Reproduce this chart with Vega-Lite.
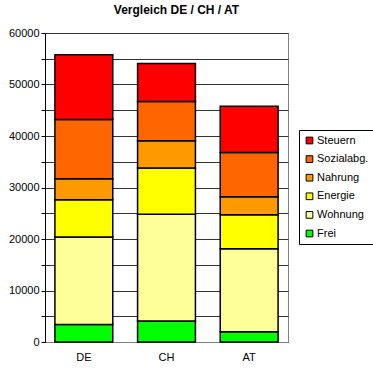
{
  "$schema": "https://vega.github.io/schema/vega-lite/v6.json",
  "autosize": {"type": "none"},
  "padding": {"left": 45, "top": 33, "right": 85, "bottom": 28},
  "width": 243,
  "height": 309,
  "background": "white",
  "title": {
    "text": "Vergleich DE / CH / AT",
    "font": "Liberation Sans",
    "fontSize": 12,
    "fontWeight": "bold",
    "color": "black",
    "anchor": "middle",
    "dx": 10,
    "offset": 10
  },
  "data": {
    "values": [
      {"Land": "DE", "Kategorie": "Frei", "Wert": 3400},
      {"Land": "DE", "Kategorie": "Wohnung", "Wert": 17000},
      {"Land": "DE", "Kategorie": "Energie", "Wert": 7200},
      {"Land": "DE", "Kategorie": "Nahrung", "Wert": 4100},
      {"Land": "DE", "Kategorie": "Sozialabg.", "Wert": 11500},
      {"Land": "DE", "Kategorie": "Steuern", "Wert": 12600},
      {"Land": "CH", "Kategorie": "Frei", "Wert": 4100},
      {"Land": "CH", "Kategorie": "Wohnung", "Wert": 20700},
      {"Land": "CH", "Kategorie": "Energie", "Wert": 9000},
      {"Land": "CH", "Kategorie": "Nahrung", "Wert": 5300},
      {"Land": "CH", "Kategorie": "Sozialabg.", "Wert": 7600},
      {"Land": "CH", "Kategorie": "Steuern", "Wert": 7400},
      {"Land": "AT", "Kategorie": "Frei", "Wert": 2000},
      {"Land": "AT", "Kategorie": "Wohnung", "Wert": 16100},
      {"Land": "AT", "Kategorie": "Energie", "Wert": 6600},
      {"Land": "AT", "Kategorie": "Nahrung", "Wert": 3500},
      {"Land": "AT", "Kategorie": "Sozialabg.", "Wert": 8600},
      {"Land": "AT", "Kategorie": "Steuern", "Wert": 9000}
    ]
  },
  "transform": [
    {"calculate": "indexof(['Frei','Wohnung','Energie','Nahrung','Sozialabg.','Steuern'], datum.Kategorie)", "as": "Stapelfolge"}
  ],
  "mark": {"type": "bar", "stroke": "black", "strokeWidth": 1.5},
  "encoding": {
    "x": {
      "field": "Land",
      "type": "nominal",
      "sort": ["DE", "CH", "AT"],
      "scale": {"paddingInner": 0.3, "paddingOuter": 0.12},
      "axis": {
        "title": null,
        "labelAngle": 0,
        "labelFont": "Liberation Sans",
        "labelFontSize": 11,
        "labelColor": "black",
        "ticks": false,
        "domainColor": "#808080",
        "labelPadding": 9
      }
    },
    "y": {
      "field": "Wert",
      "type": "quantitative",
      "stack": "zero",
      "scale": {"domain": [0, 60000], "nice": false},
      "axis": {
        "title": null,
        "values": [0, 5000, 10000, 15000, 20000, 25000, 30000, 35000, 40000, 45000, 50000, 55000, 60000],
        "labelExpr": "datum.value % 10000 === 0 ? format(datum.value, 'd') : ''",
        "labelFont": "Liberation Sans",
        "labelFontSize": 11,
        "labelColor": "black",
        "tickColor": "black",
        "tickSize": 4,
        "labelPadding": 2,
        "domainColor": "black",
        "gridColor": "#333333",
        "gridWidth": 1
      }
    },
    "color": {
      "field": "Kategorie",
      "type": "nominal",
      "sort": ["Steuern", "Sozialabg.", "Nahrung", "Energie", "Wohnung", "Frei"],
      "scale": {
        "domain": ["Steuern", "Sozialabg.", "Nahrung", "Energie", "Wohnung", "Frei"],
        "range": ["#FF0000", "#FF6600", "#FF9900", "#FFFF00", "#FFFF99", "#00FF00"]
      },
      "legend": {
        "title": null,
        "orient": "none",
        "legendX": 254,
        "legendY": 97,
        "strokeColor": "black",
        "padding": 5,
        "fillColor": "white",
        "symbolType": "square",
        "symbolSize": 45,
        "symbolStrokeColor": "black",
        "symbolStrokeWidth": 1,
        "symbolOpacity": 1,
        "labelFont": "Liberation Sans",
        "labelFontSize": 11,
        "labelColor": "black",
        "labelOffset": 2,
        "rowPadding": 6.6
      }
    },
    "order": {"field": "Stapelfolge", "type": "quantitative", "sort": "ascending"}
  },
  "config": {
    "view": {"stroke": "#808080", "strokeWidth": 1},
    "axis": {"gridOpacity": 1}
  }
}
